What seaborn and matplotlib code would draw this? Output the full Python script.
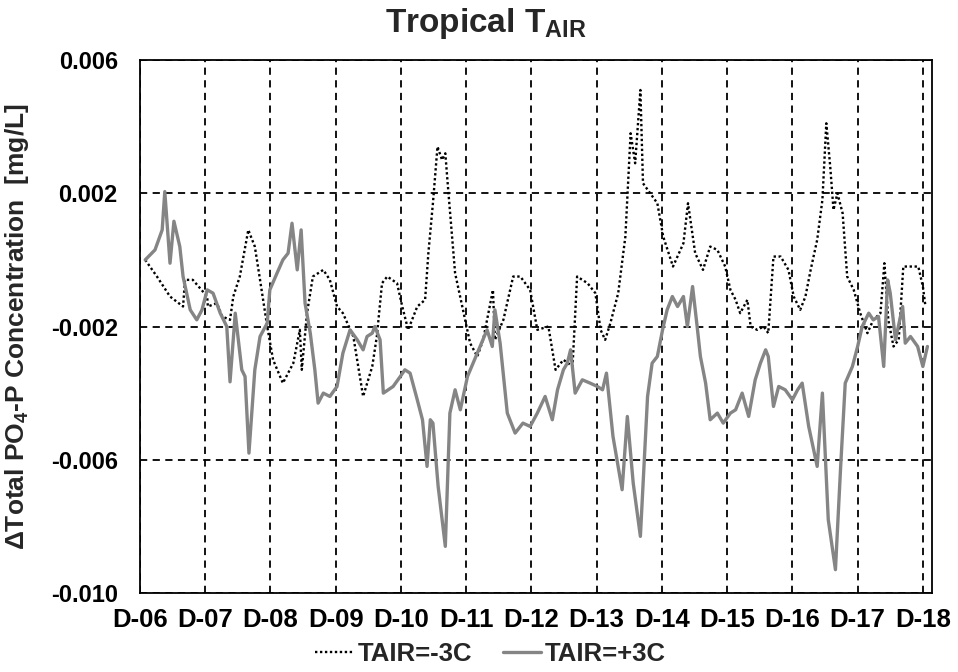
import matplotlib
matplotlib.use("Agg")
import matplotlib.pyplot as plt
import seaborn as sns
import pandas as pd

# ---- data (day number, delta concentration mg/L) ----
days_minus = [6.08, 6.26, 6.46, 6.66, 6.69, 6.81, 7.03, 7.04, 7.18, 7.26, 7.38, 7.43, 7.53, 7.66, 7.76,
              7.84, 7.95, 8.04, 8.19, 8.35, 8.45, 8.48, 8.56, 8.65, 8.81, 8.91, 9.02, 9.11, 9.27, 9.42,
              9.56, 9.63, 9.71, 9.79, 9.94, 10.02, 10.11, 10.25, 10.37, 10.42, 10.49, 10.56, 10.63, 10.68,
              10.72, 10.83, 10.94, 11.06, 11.17, 11.26, 11.41, 11.44, 11.57, 11.72, 11.83, 11.98, 12.09,
              12.26, 12.37, 12.49, 12.63, 12.70, 12.86, 12.98, 13.06, 13.13, 13.21, 13.33, 13.44, 13.52,
              13.59, 13.67, 13.71, 13.82, 13.93, 14.02, 14.17, 14.33, 14.40, 14.51, 14.63, 14.74, 14.85,
              14.97, 15.05, 15.13, 15.20, 15.31, 15.36, 15.46, 15.56, 15.63, 15.71, 15.82, 15.94, 16.02,
              16.12, 16.20, 16.28, 16.38, 16.46, 16.52, 16.58, 16.63, 16.69, 16.77, 16.84, 16.94, 17.04,
              17.15, 17.24, 17.35, 17.41, 17.47, 17.55, 17.63, 17.70, 17.81, 17.93, 18.00, 18.04]
tair_minus3 = [0.0, -0.0005, -0.0011, -0.0014, -0.0006, -0.0006, -0.0011, -0.0014, -0.0013, -0.0017,
               -0.0018, -0.0011, -0.0005, 0.0009, 0.0004, -0.0006, -0.0020, -0.0030, -0.0037, -0.0031,
               -0.0021, -0.0033, -0.0016, -0.0005, -0.0003, -0.0006, -0.0014, -0.0016, -0.0023, -0.0041,
               -0.0032, -0.0023, -0.0007, -0.0005, -0.0007, -0.0014, -0.0021, -0.0014, -0.0012, 0.0002,
               0.0017, 0.0034, 0.0030, 0.0032, 0.0022, -0.0004, -0.0014, -0.0025, -0.0029, -0.0024,
               -0.0009, -0.0024, -0.0018, -0.0005, -0.0005, -0.0009, -0.0021, -0.0020, -0.0033, -0.0030,
               -0.0032, -0.0005, -0.0007, -0.0010, -0.0021, -0.0024, -0.0019, -0.0010, 0.0007, 0.0038,
               0.0029, 0.0051, 0.0023, 0.0020, 0.0017, 0.0007, -0.0002, 0.0005, 0.0017, 0.0002, -0.0003,
               0.0004, 0.0003, -0.0002, -0.0009, -0.0012, -0.0016, -0.0012, -0.0020, -0.0021, -0.0020,
               -0.0022, 0.0001, 0.0001, -0.0003, -0.0011, -0.0015, -0.0011, -0.0003, 0.0006, 0.0018,
               0.0041, 0.0028, 0.0015, 0.0020, 0.0014, -0.0005, -0.0009, -0.0016, -0.0022, -0.0018,
               -0.0016, -0.0001, -0.0018, -0.0026, -0.0024, -0.0002, -0.0002, -0.0002, -0.0008, -0.0014]

days_plus = [6.08, 6.23, 6.34, 6.38, 6.46, 6.52, 6.61, 6.66, 6.77, 6.87, 6.95, 7.03, 7.12, 7.23, 7.33,
             7.38, 7.46, 7.56, 7.61, 7.67, 7.76, 7.84, 7.95, 7.99, 8.10, 8.19, 8.27, 8.33, 8.41, 8.47,
             8.53, 8.61, 8.68, 8.73, 8.81, 8.91, 9.02, 9.11, 9.22, 9.33, 9.42, 9.48, 9.56, 9.60, 9.68,
             9.73, 9.88, 9.99, 10.06, 10.14, 10.25, 10.33, 10.40, 10.45, 10.49, 10.57, 10.68, 10.75,
             10.83, 10.91, 11.02, 11.17, 11.32, 11.40, 11.44, 11.52, 11.63, 11.75, 11.87, 11.98, 12.09,
             12.21, 12.32, 12.40, 12.49, 12.55, 12.60, 12.67, 12.78, 12.90, 13.01, 13.09, 13.15, 13.25,
             13.39, 13.47, 13.56, 13.67, 13.78, 13.85, 13.93, 14.01, 14.08, 14.16, 14.24, 14.33, 14.39,
             14.47, 14.54, 14.59, 14.67, 14.74, 14.85, 14.94, 15.05, 15.13, 15.23, 15.33, 15.43, 15.51,
             15.59, 15.63, 15.71, 15.79, 15.89, 16.00, 16.08, 16.15, 16.25, 16.38, 16.46, 16.55, 16.66,
             16.74, 16.81, 16.92, 17.00, 17.07, 17.17, 17.24, 17.32, 17.40, 17.46, 17.50, 17.58, 17.69,
             17.73, 17.81, 17.92, 18.00, 18.07]
tair_plus3 = [0.0, 0.0003, 0.0009, 0.00205, -0.0001, 0.00116, 0.0004, -0.0005, -0.0015, -0.0018,
              -0.0015, -0.0009, -0.0010, -0.0016, -0.0020, -0.00366, -0.0016, -0.0033, -0.0035, -0.0058,
              -0.0033, -0.0023, -0.0019, -0.0009, -0.0004, 0.0, 0.0002, 0.0011, -0.0003, 0.0009,
              -0.0013, -0.0022, -0.0033, -0.0043, -0.0040, -0.0041, -0.0038, -0.0028, -0.0021, -0.0024,
              -0.0027, -0.0023, -0.0022, -0.0020, -0.0024, -0.0040, -0.0038, -0.0035, -0.0033, -0.0034,
              -0.0042, -0.0048, -0.0062, -0.0048, -0.0049, -0.0068, -0.0086, -0.0046, -0.0039, -0.0045,
              -0.0035, -0.0028, -0.0021, -0.0026, -0.0015, -0.0025, -0.0046, -0.0052, -0.0049, -0.0050,
              -0.0046, -0.0041, -0.0048, -0.0039, -0.0033, -0.0031, -0.0027, -0.0040, -0.0036, -0.0037,
              -0.0038, -0.0039, -0.0034, -0.0053, -0.0069, -0.0047, -0.0067, -0.0083, -0.0041, -0.0031,
              -0.0029, -0.0021, -0.0015, -0.0011, -0.0014, -0.0011, -0.0020, -0.0008, -0.0020, -0.0029,
              -0.0037, -0.0048, -0.0046, -0.0049, -0.0046, -0.0045, -0.0040, -0.0047, -0.0036, -0.0031,
              -0.0027, -0.0029, -0.0044, -0.0038, -0.0039, -0.0042, -0.0039, -0.0037, -0.0050, -0.0062,
              -0.0040, -0.0078, -0.0093, -0.0062, -0.0037, -0.0032, -0.0026, -0.0020, -0.0016, -0.0018,
              -0.0017, -0.0032, -0.0006, -0.0010, -0.0024, -0.0014, -0.0025, -0.0023, -0.0026, -0.0032,
              -0.0026]

tick_days = list(range(6, 19))
tick_labels = ["D-%02d" % d for d in tick_days]
y_ticks = [-0.010, -0.006, -0.002, 0.002, 0.006]
y_tick_labels = ["-0.010", "-0.006", "-0.002", "0.002", "0.006"]

sns.set_theme(style="white")
plt.rcParams["font.family"] = ["Liberation Sans", "DejaVu Sans"]
plt.rcParams["font.weight"] = "bold"
plt.rcParams["mathtext.fontset"] = "custom"
plt.rcParams["mathtext.rm"] = "Liberation Sans:bold"
plt.rcParams["mathtext.bf"] = "Liberation Sans:bold"
plt.rcParams["mathtext.it"] = "Liberation Sans:bold"
plt.rcParams["mathtext.default"] = "bf"

df_minus = pd.DataFrame({"day": days_minus, "value": tair_minus3})
df_plus = pd.DataFrame({"day": days_plus, "value": tair_plus3})

fig = plt.figure(figsize=(9.58, 6.72), dpi=100)
ax = fig.add_axes([140 / 958, 79 / 672, 792 / 958, 533 / 672])

sns.lineplot(data=df_minus, x="day", y="value", ax=ax, color="black", lw=1.7,
             linestyle=(0, (1, 1.1)), estimator=None, sort=False, label="TAIR=-3C", zorder=3)
sns.lineplot(data=df_plus, x="day", y="value", ax=ax, color="#858585", lw=2.4,
             estimator=None, sort=False, label="TAIR=+3C", zorder=4)

ax.set_xlim(6, 18.14)
ax.set_ylim(-0.010, 0.006)
ax.set_xticks(tick_days)
ax.set_xticklabels(tick_labels, fontsize=18.5, fontweight="bold")
ax.set_yticks(y_ticks)
ax.set_yticklabels(y_tick_labels, fontsize=17, fontweight="bold")
ax.tick_params(axis="x", direction="in", length=5, width=1, pad=11, colors="black")
ax.tick_params(axis="y", length=0, pad=16, colors="black")
ax.grid(True, color="black", linestyle=(0, (4, 3)), lw=1.3)
ax.set_axisbelow(True)
for s in ax.spines.values():
    s.set_color("black")
    s.set_linewidth(1.3)

ax.set_xlabel("")
ax.set_ylabel("ΔTotal PO$_4$-P Concentration  [mg/L]", fontsize=19, fontweight="bold")
ax.yaxis.set_label_coords(-0.138, 0.5)

fig.text(0.507, 1 - 32 / 672, "Tropical T$_{AIR}$", ha="center", va="baseline",
         fontsize=24, fontweight="bold")

ax.get_legend().remove()
handles, labels = ax.get_legend_handles_labels()
fig.legend(handles, labels, loc="center", bbox_to_anchor=(0.512, 0.027), ncol=2, frameon=False,
           prop={"size": 18.5, "weight": "bold"}, handlelength=1.5, handletextpad=0.15,
           columnspacing=1.2)

fig.savefig("out.png", dpi=100)
